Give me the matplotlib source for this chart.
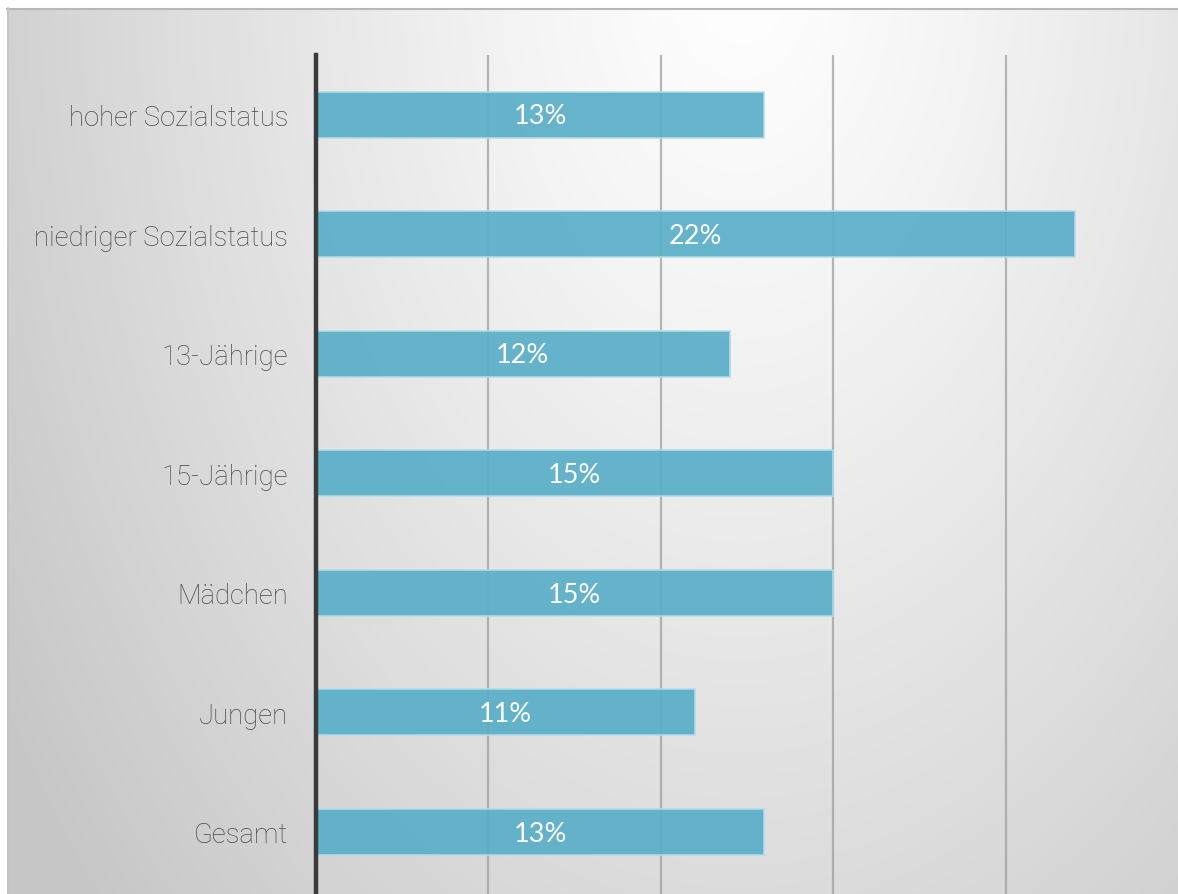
import numpy as np
import matplotlib.pyplot as plt

# Anteil in Prozent je Gruppe (von unten nach oben)
gruppen = ["Gesamt", "Jungen", "Mädchen", "15-Jährige", "13-Jährige",
           "niedriger Sozialstatus", "hoher Sozialstatus"]
anteile = [13, 11, 15, 15, 12, 22, 13]
gitter = [5, 10, 15, 20]

W, H = 1178, 895
fig = plt.figure(figsize=(W / 100, H / 100), dpi=100)

# Hintergrund: heller Verlauf von oben-mitte zu den Rändern
bg = fig.add_axes([0, 0, 1, 1], zorder=0)
xx, yy = np.meshgrid(np.arange(W), np.arange(H))
d = np.sqrt(((xx - 740) / 700.0) ** 2 + ((yy + 40) / 1100.0) ** 2)
v = 1 - 0.22 * (np.minimum(d, 1.25) / 1.25) ** 1.2
img = np.dstack([v, v, v])
img[:9, :, :] = 1.0
img[:, :7, :] = 1.0
bg.imshow(img, extent=[0, W, H, 0], aspect="auto", interpolation="bilinear")
bg.plot([7, W], [9.5, 9.5], color="#b8b8b8", lw=1.5)
bg.plot([7.5, 7.5], [9, H], color="#c4c4c4", lw=1.2)
bg.set_xlim(0, W)
bg.set_ylim(H, 0)
bg.axis("off")

ax = fig.add_axes([316 / W, 0, 1 - 316 / W, (H - 56) / H], zorder=1)
ax.patch.set_alpha(0)
y = np.arange(len(gruppen))
ax.barh(y, anteile, height=0.385, color="#5aafc8", alpha=0.93,
        edgecolor="#b4dce8", linewidth=1.2, zorder=3)
for yi, wert in zip(y, anteile):
    ax.text(wert / 2, yi - 0.01, f"{wert}%", ha="center", va="center",
            color="white", fontsize=19.5, family="Lato", zorder=4)

for g in gitter:
    ax.axvline(g, color="#9a9a9a", lw=1.6, alpha=0.7, zorder=2)

ax.set_xlim(0, 25)
ax.set_ylim(-0.52, 6.5)
ax.set_yticks(y)
ax.set_yticklabels(gruppen, fontsize=19.8, family="Roboto", fontweight="light",
                   color="#4a4a4a")
ax.tick_params(axis="y", length=0, pad=20)
ax.set_xticks([])
for s in ["top", "right", "bottom"]:
    ax.spines[s].set_visible(False)
ax.spines["left"].set_color("#3a3a3a")
ax.spines["left"].set_linewidth(3.2)
ax.spines["left"].set_zorder(5)

fig.savefig("out.png", dpi=100)
